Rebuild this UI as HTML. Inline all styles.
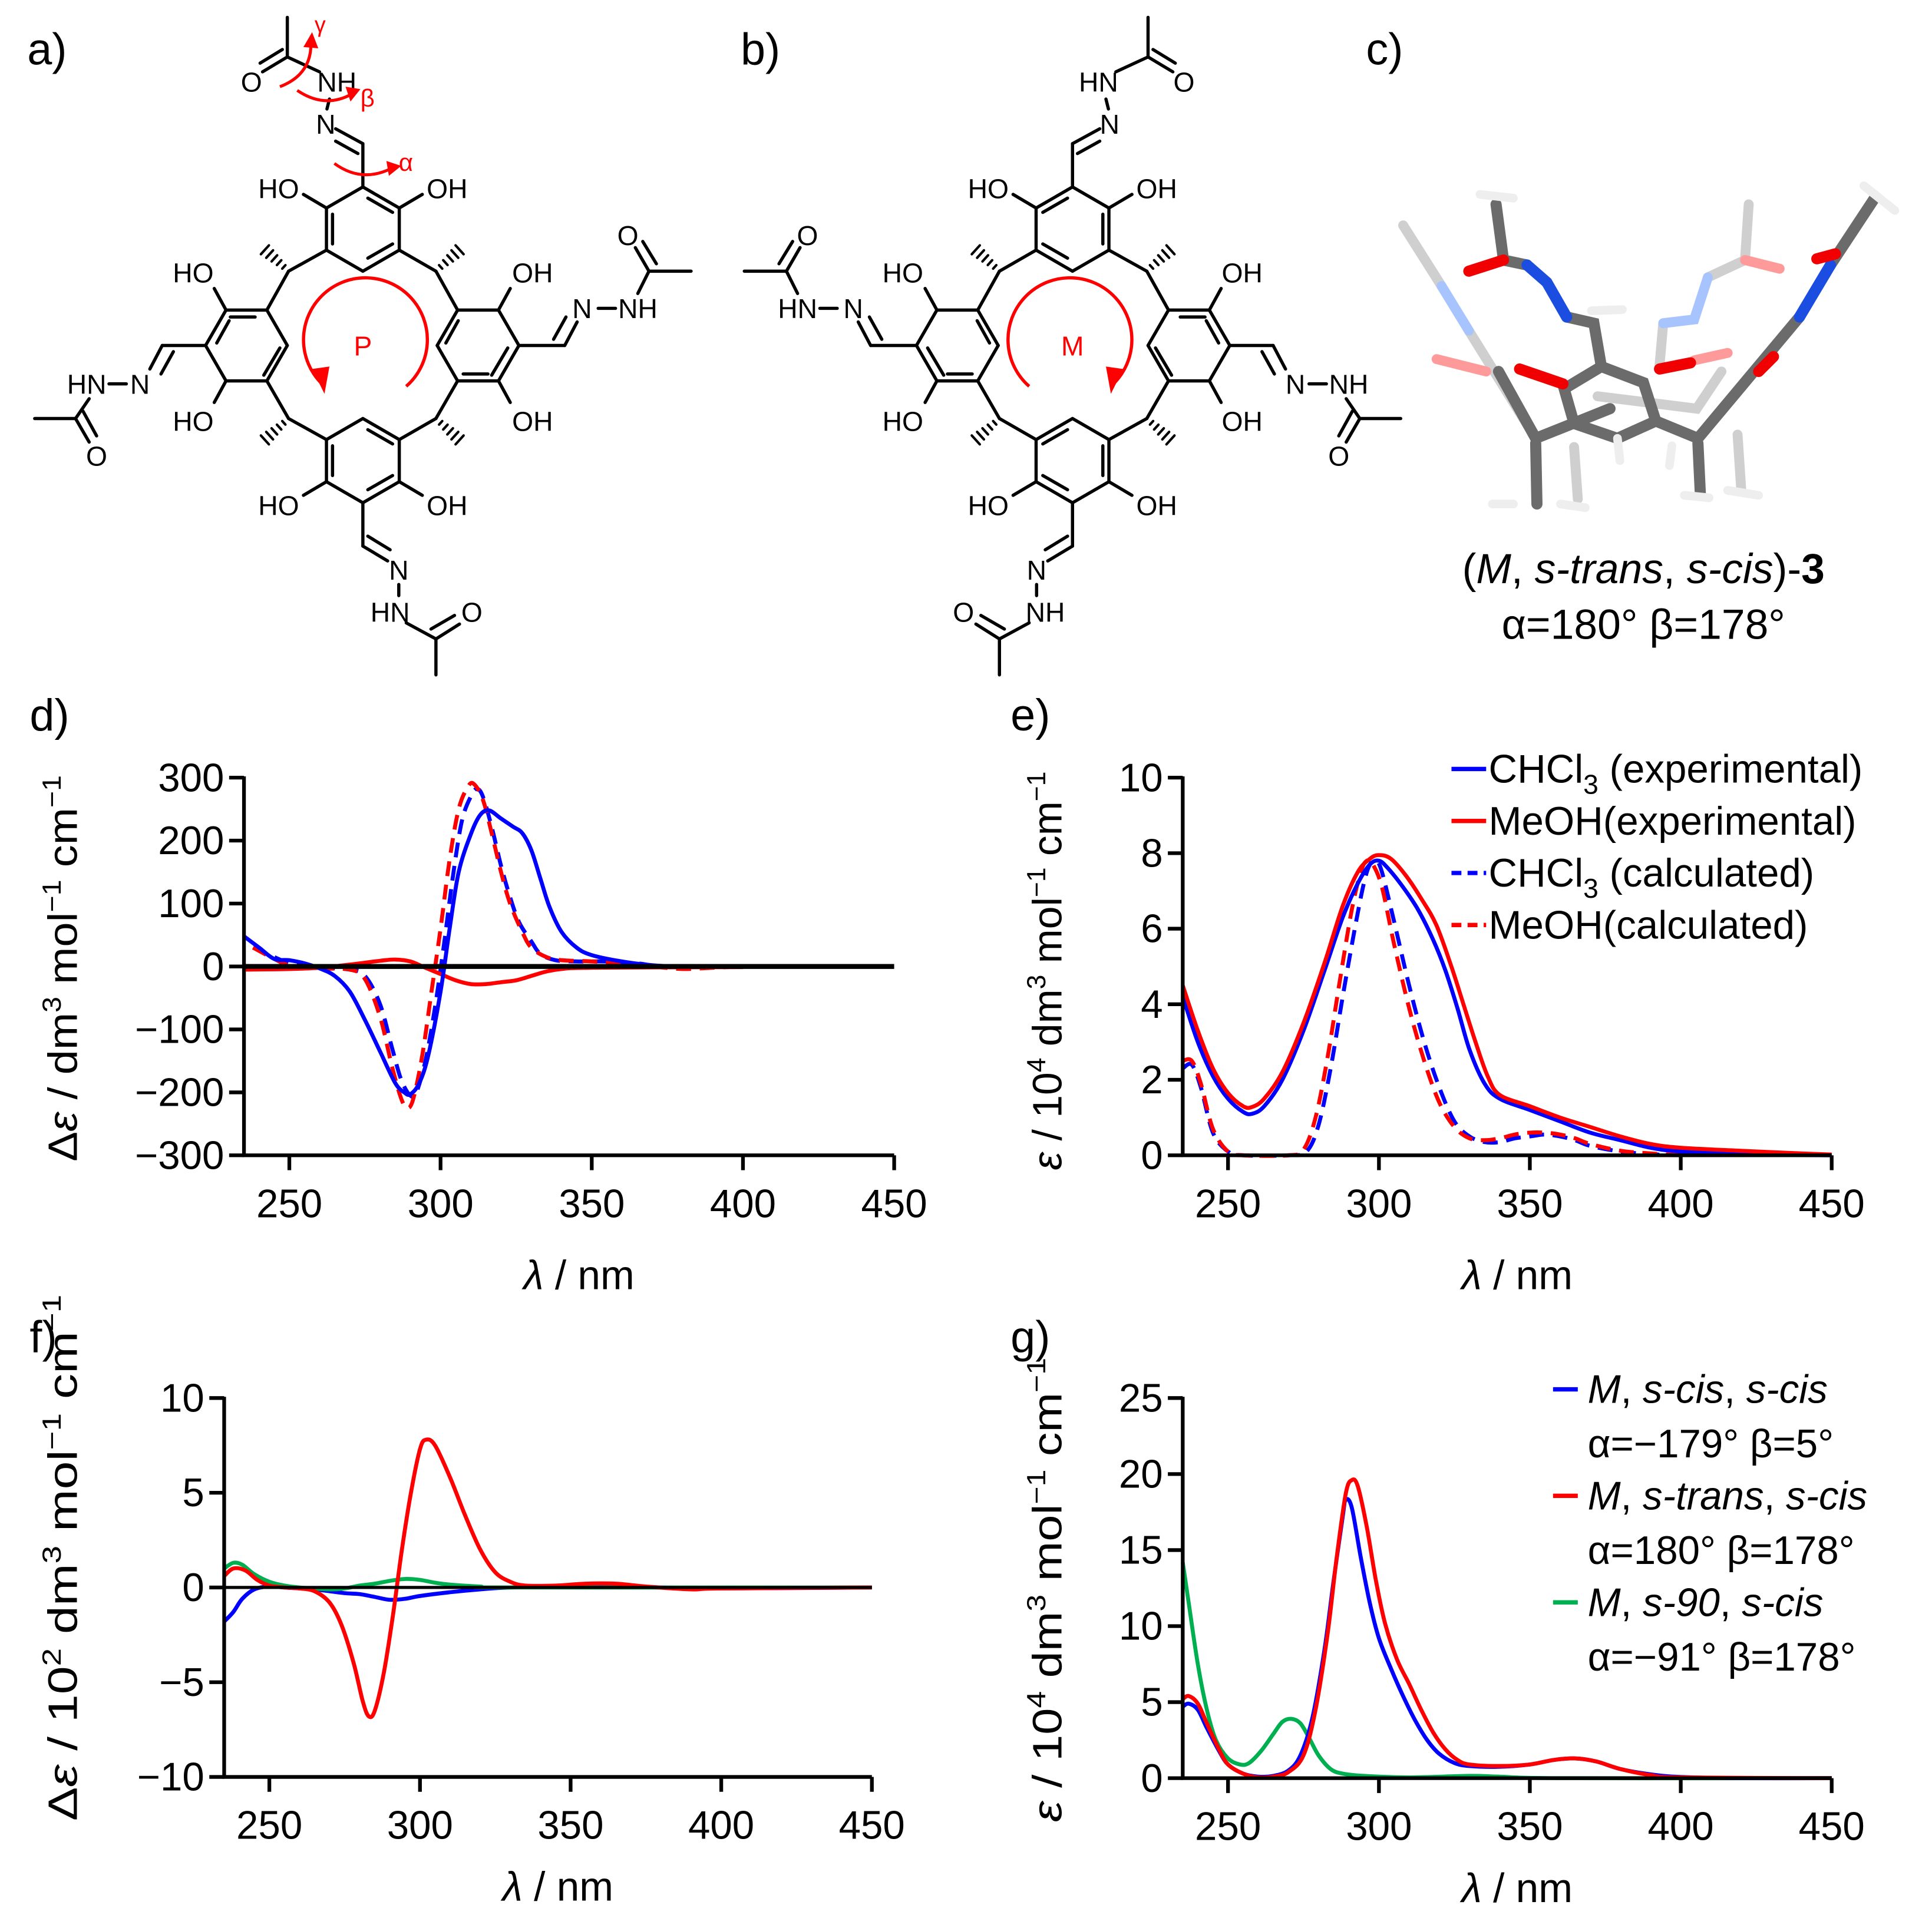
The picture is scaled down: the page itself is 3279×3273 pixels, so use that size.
<!DOCTYPE html>
<html><head><meta charset="utf-8"><style>
html,body{margin:0;padding:0;background:#fff}
svg{display:block}
text{font-family:"Liberation Sans","DejaVu Sans",sans-serif}
</style></head><body>
<svg id="fig" xmlns="http://www.w3.org/2000/svg" width="3279" height="3273" viewBox="0 0 1560 1557" preserveAspectRatio="none">
<rect width="1560" height="1557" fill="#fff"/>
<g font-size="36" fill="#000">
<text x="22" y="52">a)</text>
<text x="598" y="52">b)</text>
<text x="1103" y="52">c)</text>
<text x="24" y="590">d)</text>
<text x="816" y="590">e)</text>
<text x="24" y="1092">f)</text>
<text x="816" y="1092">g)</text>
</g>
<g id="structA"></g>
<g id="structB"></g>
<g id="model3d" stroke-linecap="round" fill="none">
 <g stroke="#cfcfcf" stroke-width="8">
  <polyline points="1240,354 1186,267"/><polyline points="1133,182 1164,231"/>
  <polyline points="1340,295 1343,261"/><polyline points="1379,224 1409,210 1412,165"/>
  <polyline points="1271,361 1274,403"/><polyline points="1403,351 1406,396"/>
  <polyline points="1290,320 1370,330 1390,300"/>
 </g>
 <g stroke="#a8c4ff" stroke-width="8"><polyline points="1164,231 1186,267"/><polyline points="1343,261 1368,258 1379,224"/></g>
 <g stroke="#ff9a9a" stroke-width="8"><polyline points="1409,210 1437,217"/><polyline points="1368,291 1395,285"/><polyline points="1160,290 1200,300"/></g>
 <g stroke="#6b6b6b" stroke-width="9">
  <polygon points="1263,314 1271,342 1306,354 1337,340 1327,309 1293,296"/>
  <polyline points="1293,296 1287,261 1265,256"/>
  <polyline points="1233,214 1214,210 1208,165"/>
  <polyline points="1240,358 1241,407"/><polyline points="1371,358 1373,400"/>
  <polyline points="1371,354 1453,256"/><polyline points="1478,214 1513,161"/>
  <polyline points="1240,354 1300,330"/><polyline points="1371,354 1337,340"/>
  <polyline points="1210,300 1240,354"/>
 </g>
 <g stroke="#1a4de0" stroke-width="9"><polyline points="1265,256 1249,228 1233,214"/><polyline points="1453,256 1478,214"/></g>
 <g stroke="#f00000" stroke-width="9"><polyline points="1214,210 1186,219"/><polyline points="1227,298 1262,310"/><polyline points="1340,298 1365,293"/><polyline points="1467,209 1482,205"/><polyline points="1420,300 1432,288"/></g>
 <g stroke="#eeeeee" stroke-width="7"><polyline points="1205,407 1222,407"/><polyline points="1260,407 1280,410"/><polyline points="1360,400 1380,402"/><polyline points="1395,396 1420,400"/><polyline points="1306,354 1308,372"/><polyline points="1350,360 1348,376"/><polyline points="1195,157 1222,160"/><polyline points="1505,150 1530,170"/><polyline points="1285,251 1310,250"/></g>
</g>
<text x="1327" y="471" font-size="34" text-anchor="middle">(<tspan font-style="italic">M</tspan>, <tspan font-style="italic">s-trans</tspan>, <tspan font-style="italic">s-cis</tspan>)-<tspan font-weight="bold">3</tspan></text>
<text x="1327" y="516" font-size="34" text-anchor="middle">α=180° β=178°</text>
<g id="charts"></g>
</svg>
<script>
// ---------- chart data ----------
const dBlueSolidX=[235,240,245,250,255,260,265,270,275,280,285,288,290,293,296,300,303,306,310,313,316,320,324,327,330,333,336,340,345,350,360,370,380,400];
const dBlueSolidY=[48,30,12,10,5,-3,-15,-40,-85,-135,-185,-200,-203,-185,-140,-40,60,150,210,240,248,235,222,212,185,140,95,55,30,18,8,2,0,0];
const dBlueDashX=[238,245,250,255,260,270,275,280,284,287,290,292,295,298,301,304,307,310,312,314,317,320,323,326,330,333,338,345,355,365,375,400];
const dBlueDashY=[30,15,5,0,-2,-5,-15,-60,-130,-180,-205,-200,-150,-70,30,140,230,270,282,270,220,160,110,70,40,20,10,8,8,5,0,0];
const dRedDashX=[238,245,250,260,270,275,280,284,287,289,291,294,297,300,303,306,309,311,314,317,320,323,327,330,335,340,350,360,370,380,390,400];
const dRedDashY=[30,12,2,-3,-5,-20,-80,-160,-210,-225,-210,-140,-40,60,170,250,285,290,265,210,150,100,55,30,15,10,8,5,0,-4,-2,0];
const dRedSolidX=[235,250,260,270,280,285,290,295,300,305,310,315,320,325,330,335,340,350,400];
const dRedSolidY=[-5,-4,-2,3,9,11,8,-2,-12,-22,-28,-28,-25,-22,-15,-8,-4,-2,-1];

const eBlueSolidX=[235,240,245,250,255,258,262,268,275,282,288,293,297,300,303,308,313,318,322,326,330,335,340,350,360,370,380,390,400,420,450];
const eBlueSolidY=[4.2,3.0,2.1,1.5,1.15,1.1,1.3,2.0,3.3,4.9,6.3,7.2,7.7,7.8,7.6,7.1,6.5,5.7,4.9,3.9,2.8,1.9,1.5,1.2,0.9,0.6,0.4,0.2,0.1,0.03,0];
const eRedSolidX=[235,240,245,250,255,258,262,268,275,282,288,293,297,300,304,309,314,319,324,328,332,336,340,350,360,370,380,390,400,420,440,450];
const eRedSolidY=[4.5,3.3,2.3,1.65,1.3,1.28,1.5,2.2,3.5,5.1,6.6,7.5,7.85,7.95,7.85,7.4,6.8,6.1,5.0,4.0,3.0,2.1,1.6,1.3,1.0,0.75,0.5,0.3,0.2,0.12,0.05,0.02];
const eBlueDashX=[235,238,241,245,250,255,270,276,280,284,288,292,295,297,299,301,305,310,315,320,325,330,335,340,345,350,355,360,365,370,380,390,400];
const eBlueDashY=[2.3,2.4,1.8,0.6,0.1,0,0,0.1,0.8,2.3,4.2,6.0,7.2,7.7,7.8,7.5,6.2,4.5,3.0,1.8,0.9,0.5,0.35,0.35,0.45,0.5,0.55,0.5,0.4,0.25,0.1,0.03,0];
const eRedDashX=[235,238,241,245,250,255,270,275,279,283,287,291,294,296,298,301,305,310,315,320,325,330,335,340,345,350,355,360,365,370,380,390,400];
const eRedDashY=[2.5,2.5,1.9,0.7,0.1,0,0,0.15,1.0,2.6,4.6,6.5,7.5,7.8,7.7,7.1,5.6,3.9,2.5,1.4,0.75,0.45,0.4,0.45,0.55,0.6,0.6,0.55,0.45,0.3,0.12,0.05,0];

const fBlueX=[235,238,241,245,250,255,260,265,270,275,280,285,290,295,300,310,320,330,350,360,380,400,450];
const fBlueY=[-1.8,-1.3,-0.6,-0.1,0.05,0,-0.05,-0.1,-0.2,-0.3,-0.35,-0.5,-0.65,-0.6,-0.45,-0.25,-0.1,0,0.05,0.05,0,-0.05,0];
const fRedX=[235,238,242,246,250,255,260,265,270,274,278,281,283,285,288,291,294,297,300,302,305,310,315,320,325,330,335,345,355,365,375,390,400,450];
const fRedY=[0.6,1.0,0.9,0.4,0.1,0,-0.05,-0.2,-0.8,-2.0,-4.0,-6.0,-6.8,-6.5,-4.5,-1.5,2.0,5.0,7.3,7.8,7.5,5.8,3.8,2.0,0.8,0.3,0.1,0.1,0.2,0.2,0.05,-0.1,-0.05,0];
const fGreenX=[235,238,241,245,250,255,260,270,275,280,285,290,295,300,305,310,320,330,450];
const fGreenY=[1.0,1.3,1.2,0.7,0.3,0.1,0,-0.1,-0.05,0.1,0.2,0.35,0.45,0.4,0.25,0.15,0.05,0,0];

const gBlueX=[235,237,240,243,247,250,255,260,265,270,274,278,282,285,288,289,291,294,297,300,304,308,312,316,320,325,330,340,350,358,365,372,380,390,400,420,450];
const gBlueY=[4.7,4.9,4.5,3.3,1.8,0.9,0.3,0.1,0.15,0.5,1.5,4.0,8.5,13,17.2,18.3,17.8,14.5,11.5,9.2,7.2,5.4,3.8,2.5,1.6,1.0,0.8,0.75,0.9,1.2,1.3,1.1,0.6,0.25,0.08,0,0];
const gRedX=[235,237,240,243,247,250,255,260,265,270,275,279,283,286,289,291,293,296,299,302,306,310,314,318,322,326,330,340,350,358,365,372,380,390,400,450];
const gRedY=[5.2,5.4,4.9,3.6,1.9,0.9,0.3,0.05,0.1,0.4,1.5,4.5,9.5,14.5,18.7,19.6,19.2,16.5,13,10.2,7.8,6.2,4.5,3.0,1.9,1.2,0.9,0.8,0.9,1.2,1.3,1.1,0.6,0.2,0.05,0];
const gGreenX=[235,237,240,243,246,250,254,257,261,265,268,271,274,277,280,284,288,295,310,330,340,360,450];
const gGreenY=[14.2,11.5,7.5,4.5,2.5,1.3,0.9,1.0,1.8,2.9,3.7,3.9,3.6,2.6,1.5,0.6,0.3,0.15,0.05,0.15,0.1,0,0];

const xTicks=[250,300,350,400,450];
const dYTicks=[-300,-200,-100,0,100,200,300];
const eYTicks=[0,2,4,6,8,10];
const fYTicks=[-10,-5,0,5,10];
const gYTicks=[0,5,10,15,20,25];

const NS='http://www.w3.org/2000/svg';
function mk(tag,parent){const e=document.createElementNS(NS,tag);parent.appendChild(e);return e;}
function smooth(pts){
  let d='M'+pts[0][0].toFixed(2)+','+pts[0][1].toFixed(2);
  for(let i=0;i<pts.length-1;i++){
    const p0=pts[Math.max(0,i-1)],p1=pts[i],p2=pts[i+1],p3=pts[Math.min(pts.length-1,i+2)];
    const c1=[p1[0]+(p2[0]-p0[0])/6,p1[1]+(p2[1]-p0[1])/6];
    const c2=[p2[0]-(p3[0]-p1[0])/6,p2[1]-(p3[1]-p1[1])/6];
    d+='C'+c1[0].toFixed(2)+','+c1[1].toFixed(2)+' '+c2[0].toFixed(2)+','+c2[1].toFixed(2)+' '+p2[0].toFixed(2)+','+p2[1].toFixed(2);
  }
  return d;
}
const charts=document.getElementById('charts');

function drawChart(c){
  const g=mk('g',charts);
  
  
  const X=v=>c.x0+(v-235)*(c.x1-c.x0)/215;
  const Y=v=>c.yb+(v-c.ymin)*(c.yt-c.yb)/(c.ymax-c.ymin);
  c.series.forEach(s=>{
    const p=mk('path',g);
    p.setAttribute('d',smooth(s.xs.map((x,i)=>[X(x),Y(s.ys[i])])));
    p.setAttribute('fill','none');p.setAttribute('stroke',s.color);p.setAttribute('stroke-width','3.2');
    p.setAttribute('stroke-linejoin','round');
    if(s.dash)p.setAttribute('stroke-dasharray','12 7');
    
    
  });
  if(c.zero){
    const z=mk('line',g);
    z.setAttribute('x1',X(235));z.setAttribute('x2',X(450));z.setAttribute('y1',Y(0));z.setAttribute('y2',Y(0));
    z.setAttribute('stroke','#000');z.setAttribute('stroke-width',c.zw);
    
    
  }
  const ax=mk('path',g);
  ax.setAttribute('d','M'+X(235)+','+(Y(c.ymax)-1)+'V'+Y(c.ymin)+'H'+X(450));
  ax.setAttribute('fill','none');ax.setAttribute('stroke','#000');ax.setAttribute('stroke-width','3');
  
  
  c.yticks.forEach(v=>{
    const t=mk('line',g);
    t.setAttribute('x1',X(235)-12);t.setAttribute('x2',X(235));t.setAttribute('y1',Y(v));t.setAttribute('y2',Y(v));
    t.setAttribute('stroke','#000');t.setAttribute('stroke-width','3');
    
    
    const l=mk('text',g);
    l.setAttribute('x',X(235)-16);l.setAttribute('y',Y(v)+11);l.setAttribute('text-anchor','end');l.setAttribute('font-size','32');
    l.textContent=(v<0?'\u2212'+(-v):String(v));
    
    
  });
  xTicks.forEach(v=>{
    const t=mk('line',g);
    t.setAttribute('x1',X(v));t.setAttribute('x2',X(v));t.setAttribute('y1',Y(c.ymin));t.setAttribute('y2',Y(c.ymin)+12);
    t.setAttribute('stroke','#000');t.setAttribute('stroke-width','3');
    
    
    const l=mk('text',g);
    l.setAttribute('x',X(v));l.setAttribute('y',Y(c.ymin)+c.xlabOff);l.setAttribute('text-anchor','middle');l.setAttribute('font-size','32');
    l.textContent=String(v);
    
    
  });
  const xt=mk('text',g);
  xt.setAttribute('x',(X(235)+X(450))/2+8);xt.setAttribute('y',Y(c.ymin)+c.xtitleOff);xt.setAttribute('text-anchor','middle');xt.setAttribute('font-size','33');
  xt.innerHTML='<tspan font-style="italic">λ</tspan> / nm';
  
  
  const yt=mk('text',g);
  yt.setAttribute('transform','translate('+c.ytx+','+c.ytc+') rotate(-90)');
  yt.setAttribute('text-anchor','middle');yt.setAttribute('font-size','33');
  yt.setAttribute('textLength',c.ytl);yt.setAttribute('lengthAdjust','spacingAndGlyphs');
  yt.innerHTML=c.ytitle;
  
  
  return g;
}
const sup=s=>'<tspan dy="-13" font-size="21">'+s+'</tspan><tspan dy="13"> </tspan>';
drawChart({name:'chart-d-cd-spectra',x0:197,x1:722,yt:628,yb:933,ymin:-300,ymax:300,yticks:dYTicks,zero:true,zw:4,xlabOff:50,xtitleOff:108,ytx:62,ytc:782,ytl:312,
  ytitle:'Δ<tspan font-style="italic">ε</tspan> / dm'+sup('3')+'mol'+sup('−1')+'cm'+sup('−1'),
  series:[{name:'d-chcl3-calculated',xs:dBlueDashX,ys:dBlueDashY,color:'#0000ff',dash:true},
          {name:'d-meoh-calculated',xs:dRedDashX,ys:dRedDashY,color:'#ff0000',dash:true},
          {name:'d-meoh-experimental',xs:dRedSolidX,ys:dRedSolidY,color:'#ff0000'},
          {name:'d-chcl3-experimental',xs:dBlueSolidX,ys:dBlueSolidY,color:'#0000ff'}]});
drawChart({name:'chart-e-uv-spectra',x0:955,x1:1479,yt:628,yb:933,ymin:0,ymax:10,yticks:eYTicks,zero:false,xlabOff:50,xtitleOff:108,ytx:857,ytc:784,ytl:322,
  ytitle:'<tspan font-style="italic">ε</tspan> / 10'+sup('4')+'dm'+sup('3')+'mol'+sup('−1')+'cm'+sup('−1'),
  series:[{name:'e-chcl3-calculated',xs:eBlueDashX,ys:eBlueDashY,color:'#0000ff',dash:true},
          {name:'e-meoh-calculated',xs:eRedDashX,ys:eRedDashY,color:'#ff0000',dash:true},
          {name:'e-chcl3-experimental',xs:eBlueSolidX,ys:eBlueSolidY,color:'#0000ff'},
          {name:'e-meoh-experimental',xs:eRedSolidX,ys:eRedSolidY,color:'#ff0000'}]});
drawChart({name:'chart-f-calc-cd',x0:181,x1:704,yt:1129,yb:1435,ymin:-10,ymax:10,yticks:fYTicks,zero:true,zw:2.5,xlabOff:50,xtitleOff:100,ytx:62,ytc:1258,ytl:425,
  ytitle:'Δ<tspan font-style="italic">ε</tspan> / 10'+sup('2')+'dm'+sup('3')+'mol'+sup('−1')+'cm'+sup('−1'),
  series:[{name:'f-s-cis-s-cis',xs:fBlueX,ys:fBlueY,color:'#0000ff'},
          {name:'f-s-90-s-cis',xs:fGreenX,ys:fGreenY,color:'#00b050'},
          {name:'f-s-trans-s-cis',xs:fRedX,ys:fRedY,color:'#ff0000'}]});
drawChart({name:'chart-g-calc-uv',x0:955,x1:1479,yt:1129,yb:1436,ymin:0,ymax:25,yticks:gYTicks,zero:false,xlabOff:50,xtitleOff:100,ytx:857,ytc:1284,ytl:375,
  ytitle:'<tspan font-style="italic">ε</tspan> / 10'+sup('4')+'dm'+sup('3')+'mol'+sup('−1')+'cm'+sup('−1'),
  series:[{name:'g-s-90-s-cis',xs:gGreenX,ys:gGreenY,color:'#00b050'},
          {name:'g-s-cis-s-cis',xs:gBlueX,ys:gBlueY,color:'#0000ff'},
          {name:'g-s-trans-s-cis',xs:gRedX,ys:gRedY,color:'#ff0000'}]});

function legendEntry(x1,x2,y,color,dash,html,tx,name){
  const g=mk('g',charts);
  
  
  const l=mk('line',g);
  l.setAttribute('x1',x1);l.setAttribute('x2',x2);l.setAttribute('y1',y);l.setAttribute('y2',y);
  l.setAttribute('stroke',color);l.setAttribute('stroke-width','3.5');
  if(dash)l.setAttribute('stroke-dasharray','8 5');
  const t=mk('text',g);
  t.setAttribute('x',tx);t.setAttribute('y',y+11);t.setAttribute('font-size','32');
  t.innerHTML=html;
}
const sub='<tspan dy="9" font-size="22">3</tspan><tspan dy="-9"> </tspan>';
legendEntry(1172,1200,621,'#0000ff',false,'CHCl'+sub+'(experimental)',1202,'legend-chcl3-experimental');
legendEntry(1172,1200,663,'#ff0000',false,'MeOH(experimental)',1202,'legend-meoh-experimental');
legendEntry(1172,1200,705,'#0000ff',true,'CHCl'+sub+'(calculated)',1202,'legend-chcl3-calculated');
legendEntry(1172,1200,747,'#ff0000',true,'MeOH(calculated)',1202,'legend-meoh-calculated');
legendEntry(1254,1274,1122,'#0000ff',false,'<tspan font-style="italic">M</tspan>, <tspan font-style="italic">s-cis</tspan>, <tspan font-style="italic">s-cis</tspan>',1282,'legend-s-cis-s-cis');
legendEntry(1254,1274,1208,'#ff0000',false,'<tspan font-style="italic">M</tspan>, <tspan font-style="italic">s-trans</tspan>, <tspan font-style="italic">s-cis</tspan>',1282,'legend-s-trans-s-cis');
legendEntry(1254,1274,1294,'#00b050',false,'<tspan font-style="italic">M</tspan>, <tspan font-style="italic">s-90</tspan>, <tspan font-style="italic">s-cis</tspan>',1282,'legend-s-90-s-cis');
[['α=−179° β=5°',1177],['α=180° β=178°',1263],['α=−91° β=178°',1349]].forEach(a=>{
  const t=mk('text',charts);
  t.setAttribute('x',1282);t.setAttribute('y',a[1]);t.setAttribute('font-size','32');
  t.textContent=a[0];
  
  
});

// ---------- chemical structures ----------
const bonds=[
 [293,151,322.4,168],[322.4,168,322.4,202],[322.4,202,293,219],[293,219,263.6,202],[263.6,202,263.6,168],[263.6,168,293,151],
 [232,279,215.5,307.6],[215.5,307.6,182.5,307.6],[182.5,307.6,166,279],[166,279,182.5,250.4],[182.5,250.4,215.5,250.4],[215.5,250.4,232,279],
 [419,279,402.5,307.6],[402.5,307.6,369.5,307.6],[369.5,307.6,353,279],[353,279,369.5,250.4],[369.5,250.4,402.5,250.4],[402.5,250.4,419,279],
 [293,338,322.4,355],[322.4,355,322.4,389],[322.4,389,293,406],[293,406,263.6,389],[263.6,389,263.6,355],[263.6,355,293,338],
 [297,160,317,171.5],[317,197,297,208.5],[268.5,197,268.5,173],
 [226,281,213,303],[186,256,206,256],[175,277,185,259],
 [410,281,397,303],[374,302,394,302],[360,277,370,259],
 [297,347,317,358.5],[317,384,297,395.5],[268.5,384,268.5,360],
 [263.6,202,233,219],[233,219,215.5,250.4],[322.4,202,352,219],[352,219,369.5,250.4],
 [215.5,307.6,233,338],[233,338,263.6,355],[369.5,307.6,352,338],[352,338,322.4,355],
 [263.6,168,245,157],[322.4,168,341,157],[182.5,250.4,173,233],[182.5,307.6,173,325],
 [402.5,250.4,412,233],[402.5,307.6,412,325],[263.6,389,245,400],[322.4,389,341,400],
 [293,151,293,116],[293,116,271,104],[289,124,271,114],[264,88,266,80],[258,58,232,46],[232,46,232,14],[232,46,212,58],[228,40,210,51],
 [166,279,131,279],[131,279,121,298],[140,284,130,302],[88,310,102,310],[72,322,61,338],[61,338,28,338],[61,338,72,357],[67,332,78,352],
 [419,279,456,279],[456,279,466,260],[447,274,457,256],[483,249,497,249],[515,237,524,219],[524,219,558,219],[524,219,513,200],[530,213,519,195],
 [293,406,293,441],[293,441,313,453],[297,433,315,444],[322,472,322,481],[328,503,352,516],[352,516,352,545],[352,516,371,504],[348,508,367,497]
];
const hashes=[[233,219,212,200],[352,219,373,200],[233,338,212,357],[352,338,373,357]];
const labels=[
 ['HO',225,160],['OH',361,160],['HO',156,228],['HO',156,348],['OH',430,228],['OH',430,348],['HO',225,416],['OH',361,416],
 ['N',263,108],['NH',272,74],['O',203,74],
 ['N',113,318],['HN',70,318],['O',78,376],
 ['N',470,257],['NH',515,257],['O',507,198],
 ['N',322,468],['HN',315,502],['O',381,502]
];
function swapTxt(s){return s==='HO'?'OH':s==='OH'?'HO':s==='NH'?'HN':s==='HN'?'NH':s;}
function drawStruct(gid,mirror,letter){
  const g=document.getElementById(gid);
  const M=x=>mirror?1159-x:x;
  const bg=mk('g',g);
  bg.setAttribute('stroke','#000');bg.setAttribute('stroke-width','2.6');bg.setAttribute('stroke-linecap','round');
  
  
  bonds.forEach(b=>{const l=mk('line',bg);l.setAttribute('x1',M(b[0]));l.setAttribute('y1',b[1]);l.setAttribute('x2',M(b[2]));l.setAttribute('y2',b[3]);});
  hashes.forEach(h=>{
    for(let k=1;k<=5;k++){
      const f=k/5.5;const cx=h[0]+(h[2]-h[0])*f,cy=h[1]+(h[3]-h[1])*f;
      const dx=-(h[3]-h[1]),dy=(h[2]-h[0]);const len=Math.hypot(dx,dy);const w=1.2+4*f;
      const l=mk('line',bg);
      l.setAttribute('x1',M(cx-dx/len*w));l.setAttribute('y1',cy-dy/len*w);l.setAttribute('x2',M(cx+dx/len*w));l.setAttribute('y2',cy+dy/len*w);l.setAttribute('stroke-width','2');
    }
  });
  labels.forEach(a=>{
    const t=mk('text',g);
    t.setAttribute('x',M(a[1]));t.setAttribute('y',a[2]);t.setAttribute('text-anchor','middle');t.setAttribute('font-size','22');
    t.textContent=mirror?swapTxt(a[0]):a[0];
    
    
  });
  const rg=mk('g',g);
  
  
  const arc=mk('path',rg);
  arc.setAttribute('d','M'+M(328)+',312 A50,50 0 1 '+(mirror?1:0)+' '+M(260)+',310');
  arc.setAttribute('fill','none');arc.setAttribute('stroke','#ff0000');arc.setAttribute('stroke-width','2.6');
  const ah=mk('path',rg);
  ah.setAttribute('d','M'+M(252)+',298 L'+M(262)+',318 L'+M(266)+',296 Z');ah.setAttribute('fill','#ff0000');
  const lt=mk('text',rg);
  lt.setAttribute('x',M(293));lt.setAttribute('y',287);lt.setAttribute('text-anchor','middle');lt.setAttribute('font-size','22');lt.setAttribute('fill','#ff0000');
  lt.textContent=letter;
}
drawStruct('structA',false,'P');
drawStruct('structB',true,'M');
(function(){
  const g=document.getElementById('structA');
  const a=mk('g',g);
  
  
  a.innerHTML='<path d="M270,132 Q292,148 316,136" fill="none" stroke="#f00" stroke-width="2.4"/><path d="M312,130 L324,134 L314,142 Z" fill="#f00"/>'+
  '<path d="M240,73 Q262,88 284,76" fill="none" stroke="#f00" stroke-width="2.4"/><path d="M279,70 L291,72 L283,82 Z" fill="#f00"/>'+
  '<path d="M226,70 Q252,60 251,34" fill="none" stroke="#f00" stroke-width="2.4"/><path d="M245,38 L252,26 L257,39 Z" fill="#f00"/>'+
  '<text x="322" y="138" fill="#f00" font-size="20" font-family="Liberation Serif,serif">α</text>'+
  '<text x="291" y="86" fill="#f00" font-size="20" font-family="Liberation Serif,serif">β</text>'+
  '<text x="254" y="26" fill="#f00" font-size="18" font-family="Liberation Serif,serif">γ</text>';
})();
</script>
</body></html>
